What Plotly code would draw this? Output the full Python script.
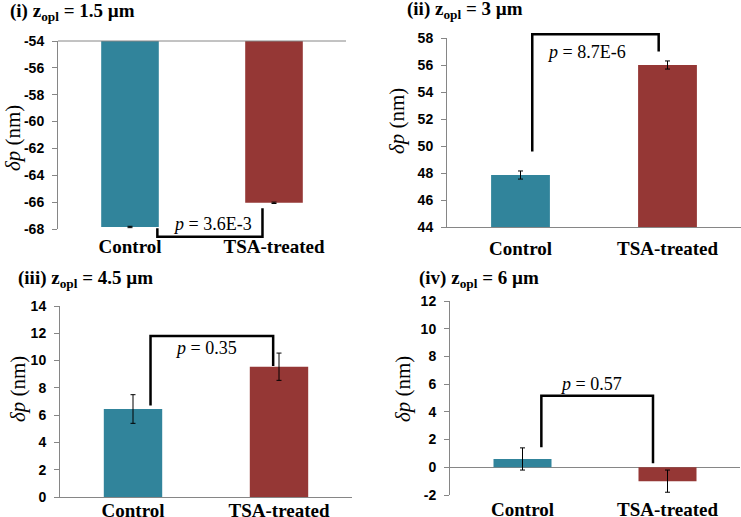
import plotly.graph_objects as go
from plotly.subplots import make_subplots

categories = ["Control", "TSA-treated"]
bar_colors = ["#31849B", "#953735"]

titles = ["(i) z<sub>opl</sub> = 1.5 µm", "(ii) z<sub>opl</sub> = 3 µm",
          "(iii) z<sub>opl</sub> = 4.5 µm", "(iv) z<sub>opl</sub> = 6 µm"]

means_i = [-67.85, -66.05]
err_i = [0.05, 0.05]
means_ii = [47.85, 56.0]
err_ii = [0.3, 0.3]
means_iii = [6.45, 9.55]
err_iii = [1.05, 1.0]
means_iv = [0.6, -1.0]
err_iv = [0.8, 0.8]

y_ranges = [[-68, -54], [44, 58], [0, 14], [-2, 12]]
y_ticks = [[-68, -66, -64, -62, -60, -58, -56, -54],
           [44, 46, 48, 50, 52, 54, 56, 58],
           [0, 2, 4, 6, 8, 10, 12, 14],
           [-2, 0, 2, 4, 6, 8, 10, 12]]

p_labels = ["<i>p</i> = 3.6E-3", "<i>p</i> = 8.7E-6", "<i>p</i> = 0.35", "<i>p</i> = 0.57"]
# p-label position: (category units, data units)
p_label_x = [0.57, 0.45, 0.5, 0.47]
p_label_y = [-67.6, 56.96, 10.9, 6.0]
# brackets: left x, right x (category units); left start y, level y, right end y
bracket_x = [[0.19, 0.92], [0.08, 0.94], [0.12, 0.96], [0.13, 0.9]]
bracket_y = [[-67.95, -68.57, -66.45], [49.6, 58.27, 57.0], [6.7, 11.8, 9.6], [1.45, 5.17, 0.3]]

means = [means_i, means_ii, means_iii, means_iv]
errs = [err_i, err_ii, err_iii, err_iv]

W, H = 741, 517
# plot-area pixel boxes (left, right, top, bottom)
boxes = [(58, 346, 41, 229), (447, 741, 38, 227), (60, 352, 306, 497), (450, 740, 301, 495)]
title_pos = [(8, 26), (405, 24), (16, 293), (417, 293)]
ytitle_pos = [(13, 138), (397, 121), (18, 389), (403, 389)]
xlabel_standoff = [4, 4, -4, 1]


def px(x):
    return x / W


def py(y):
    return 1 - y / H


fig = make_subplots(rows=2, cols=2)
GRAY = "#868686"
serif = "Liberation Serif, Times New Roman, serif"
sans = "Liberation Sans, Arial, sans-serif"

for k in range(4):
    r, c = k // 2 + 1, k % 2 + 1
    fig.add_trace(go.Bar(
        x=categories, y=means[k], width=0.4,
        marker=dict(color=bar_colors, line=dict(width=0)),
        error_y=dict(type="data", array=errs[k], color="black", thickness=1, width=2.5),
        showlegend=False, hoverinfo="skip"), row=r, col=c)

    l, rr, t, b = boxes[k]
    xa = "xaxis" if k == 0 else f"xaxis{k+1}"
    ya = "yaxis" if k == 0 else f"yaxis{k+1}"
    fig.layout[xa].update(domain=[px(l), px(rr)], range=[-0.5, 1.5], automargin=False,
                          showline=(k in (1, 2)), linecolor=GRAY, linewidth=1,
                          ticks="", showgrid=False, zeroline=False,
                          tickvals=categories, ticktext=[f"<b>{s}</b>" for s in categories],
                          tickfont=dict(family=serif, size=19, color="black"),
                          ticklabelstandoff=xlabel_standoff[k])
    fig.layout[ya].update(domain=[py(b), py(t)], range=y_ranges[k], automargin=False,
                          tickvals=y_ticks[k], ticktext=[f"<b>{v}</b>" for v in y_ticks[k]],
                          showline=True, linecolor=GRAY, linewidth=1,
                          ticks="outside", ticklen=5, tickcolor=GRAY, tickwidth=1,
                          showgrid=False, zeroline=(k == 3), zerolinecolor=GRAY, zerolinewidth=1,
                          tickfont=dict(family=sans, size=14, color="black"),
                          ticklabelstandoff=5)

    xd = "x domain" if k == 0 else f"x{k+1} domain"
    yd = "y domain" if k == 0 else f"y{k+1} domain"
    lo, hi = y_ranges[k]
    fy = lambda v: (v - lo) / (hi - lo)
    fx = lambda v: (v + 0.5) / 2.0
    x0, x1 = bracket_x[k]
    ys, ylev, ye = bracket_y[k]
    path = (f"M {fx(x0)} {fy(ys)} L {fx(x0)} {fy(ylev)} "
            f"L {fx(x1)} {fy(ylev)} L {fx(x1)} {fy(ye)}")
    fig.add_shape(type="path", path=path, xref=xd, yref=yd,
                  line=dict(color="black", width=2.5))
    if k == 0:
        fig.add_shape(type="line", xref=xd, yref=yd, x0=0, x1=1, y0=1, y1=1,
                      line=dict(color=GRAY, width=1))

    fig.add_annotation(text=p_labels[k], xref=xd, yref=yd,
                       x=fx(p_label_x[k]), y=fy(p_label_y[k]), showarrow=False,
                       xanchor="center", yanchor="middle",
                       font=dict(family=serif, size=18, color="black"))
    tx, ty = title_pos[k]
    fig.add_annotation(text=f"<b>{titles[k]}</b>", xref="paper", yref="paper",
                       x=px(tx), y=py(ty), showarrow=False,
                       xanchor="left", yanchor="bottom",
                       font=dict(family=serif, size=19, color="black"))
    ax_, ay_ = ytitle_pos[k]
    fig.add_annotation(text="<i>δp</i> (nm)", xref="paper", yref="paper",
                       x=px(ax_), y=py(ay_), showarrow=False, textangle=-90,
                       xanchor="center", yanchor="middle",
                       font=dict(family=serif, size=21, color="black"))

fig.update_layout(template="none", width=W, height=H, margin=dict(l=0, r=0, t=0, b=0, pad=0),
                  plot_bgcolor="white", paper_bgcolor="white", bargap=0.6, showlegend=False)
fig.write_html("out.html", config={"displayModeBar": False},
               post_script="document.body.style.margin='0px';document.body.style.overflow='hidden';")
